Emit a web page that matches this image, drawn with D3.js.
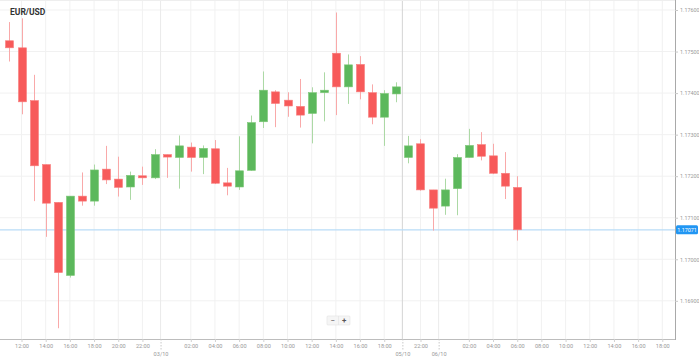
<!DOCTYPE html>
<html><head><meta charset="utf-8">
<script src="https://cdn.jsdelivr.net/npm/d3@7"></script>
<style>html,body{margin:0;padding:0;background:#fff;}svg{display:block;font-family:Roboto,"Open Sans",sans-serif;}</style>
</head><body><svg id="c" width="699" height="357"></svg>
<script>
const title = "EUR/USD";
const times = [
"02/10 11:00","02/10 12:00","02/10 13:00","02/10 14:00","02/10 15:00","02/10 16:00","02/10 17:00","02/10 18:00","02/10 19:00","02/10 20:00","02/10 21:00","02/10 22:00","02/10 23:00",
"03/10 00:00","03/10 01:00","03/10 02:00","03/10 03:00","03/10 04:00","03/10 05:00","03/10 06:00","03/10 07:00","03/10 08:00","03/10 09:00","03/10 10:00","03/10 11:00","03/10 12:00","03/10 13:00","03/10 14:00","03/10 15:00","03/10 16:00","03/10 17:00","03/10 18:00","03/10 19:00",
"05/10 21:00","05/10 22:00","05/10 23:00",
"06/10 00:00","06/10 01:00","06/10 02:00","06/10 03:00","06/10 04:00","06/10 05:00","06/10 06:00"];
const futureTimes = ["06/10 07:00","06/10 08:00","06/10 09:00","06/10 10:00","06/10 11:00","06/10 12:00","06/10 13:00","06/10 14:00","06/10 15:00","06/10 16:00","06/10 17:00","06/10 18:00"];
const open  = [1.17526,1.17509,1.17382,1.17228,1.17137,1.16961,1.17152,1.17140,1.17217,1.17193,1.17174,1.17201,1.17196,1.17252,1.17245,1.17270,1.17245,1.17266,1.17184,1.17174,1.17214,1.17331,1.17403,1.17383,1.17368,1.17351,1.17401,1.17496,1.17415,1.17469,1.17401,1.17342,1.17398,1.17245,1.17278,1.17167,1.17128,1.17170,1.17245,1.17276,1.17249,1.17207,1.17173];
const high  = [1.17571,1.17580,1.17444,1.17228,1.17137,1.17152,1.17209,1.17228,1.17273,1.17247,1.17211,1.17223,1.17265,1.17252,1.17298,1.17281,1.17274,1.17287,1.17220,1.17296,1.17346,1.17452,1.17407,1.17402,1.17434,1.17414,1.17450,1.17594,1.17493,1.17489,1.17421,1.17407,1.17426,1.17297,1.17289,1.17167,1.17194,1.17253,1.17314,1.17306,1.17278,1.17258,1.17200];
const low   = [1.17476,1.17349,1.17140,1.17054,1.16834,1.16956,1.17129,1.17129,1.17181,1.17151,1.17143,1.17179,1.17193,1.17196,1.17170,1.17211,1.17205,1.17181,1.17154,1.17167,1.17213,1.17316,1.17318,1.17343,1.17317,1.17279,1.17332,1.17347,1.17374,1.17385,1.17325,1.17273,1.17378,1.17231,1.17165,1.17069,1.17107,1.17106,1.17245,1.17238,1.17205,1.17145,1.17045];
const close = [1.17509,1.17379,1.17225,1.17135,1.16968,1.17152,1.17140,1.17215,1.17191,1.17173,1.17202,1.17196,1.17252,1.17246,1.17273,1.17245,1.17267,1.17183,1.17176,1.17213,1.17329,1.17407,1.17375,1.17369,1.17347,1.17401,1.17407,1.17415,1.17468,1.17403,1.17342,1.17399,1.17415,1.17273,1.17167,1.17123,1.17167,1.17245,1.17274,1.17248,1.17207,1.17176,1.17071];
const priceTicks = [1.169,1.170,1.171,1.172,1.173,1.174,1.175,1.176];
const lastPrice = 1.17071;

const W = 675, H = 339;
const svg = d3.select("#c");
const allTimes = times.concat(futureTimes);
const x = d3.scaleLinear().domain([-0.78, 55.05]).range([0, W]);
const y = d3.scaleLinear().domain([1.168081, 1.176241]).range([H, 0]);

const hourTicks = allTimes.map((t,i)=>({i, h:+t.slice(6,8), label:t.slice(6)})).filter(o=>o.h%2===0 && o.h!==0);
const dateTicks = [];
allTimes.forEach((t,i)=>{ if(i>0 && t.slice(0,5)!==allTimes[i-1].slice(0,5)) dateTicks.push({pos:i-0.5, label:t.slice(0,5)}); });

// horizontal grid
svg.append("g").selectAll("line").data(priceTicks).join("line")
  .attr("x1",0).attr("x2",W).attr("y1",d=>y(d)).attr("y2",d=>y(d))
  .attr("stroke","#f1f1f1").attr("stroke-width",1);
// vertical grid
svg.append("g").selectAll("line").data(hourTicks).join("line")
  .attr("x1",d=>x(d.i)).attr("x2",d=>x(d.i)).attr("y1",0).attr("y2",H)
  .attr("stroke","#f1f1f1").attr("stroke-width",1);
svg.append("g").selectAll("line").data(dateTicks).join("line")
  .attr("x1",d=>x(d.pos)).attr("x2",d=>x(d.pos)).attr("y1",0).attr("y2",H)
  .attr("stroke",d=>d.label==="05/10"?"#d4d4d4":"#ebebeb").attr("stroke-width",1);
// top border
svg.append("line").attr("x1",0).attr("x2",W).attr("y1",0.5).attr("y2",0.5).attr("stroke","#eeeeee");

// current price line
svg.append("line").attr("x1",0).attr("x2",W).attr("y1",y(lastPrice)).attr("y2",y(lastPrice))
  .attr("stroke","#b9dcf7").attr("stroke-width",1.2);

// candles
const idx = d3.range(times.length);
const up = i => close[i] >= open[i];
const g = svg.append("g");
g.selectAll("line.w").data(idx).join("line").attr("class","w")
  .attr("x1",i=>Math.round(x(i))+0.5).attr("x2",i=>Math.round(x(i))+0.5)
  .attr("y1",i=>y(high[i])).attr("y2",i=>y(low[i]))
  .attr("stroke",i=>up(i)?"#acd9a5":"#f9a9a9").attr("stroke-width",1);
g.selectAll("rect").data(idx).join("rect")
  .attr("x",i=>Math.round(x(i))-3.5).attr("width",8)
  .attr("y",i=>y(Math.max(open[i],close[i])))
  .attr("height",i=>Math.max(1.5, Math.abs(y(open[i])-y(close[i]))))
  .attr("fill",i=>up(i)?"#5cb85c":"#f75a5a")
  .attr("stroke",i=>up(i)?"#7cc776":"#f87d7d").attr("stroke-width",0.6);

// axes
const xAxis = d3.axisBottom(x).tickValues(hourTicks.map(d=>d.i))
  .tickFormat(v=>allTimes[v].slice(6)).tickSize(3).tickPadding(2);
const gx = svg.append("g").attr("transform",`translate(0,${H})`).call(xAxis);
gx.select(".domain").attr("stroke","#bdbdbd").attr("d",`M0,0.5H${W}`);
gx.selectAll(".tick line").attr("stroke","#d0d0d0");
gx.selectAll("text").attr("fill","#9a9a9a").attr("font-size","5.6px").attr("font-family","Roboto,sans-serif");

const dAxis = d3.axisBottom(x).tickValues(dateTicks.map(d=>d.pos))
  .tickFormat(v=>dateTicks.find(d=>d.pos===v).label).tickSize(11).tickPadding(2);
const gd = svg.append("g").attr("transform",`translate(0,${H})`).call(dAxis);
gd.select(".domain").remove();
gd.selectAll(".tick line").attr("stroke","#c8c8c8").attr("stroke-dasharray","1.5,1.5");
gd.selectAll("text").attr("fill","#9a9a9a").attr("font-size","5.6px").attr("font-family","Roboto,sans-serif");

const yAxis = d3.axisRight(y).tickValues(priceTicks).tickFormat(d3.format(".5f")).tickSize(3).tickPadding(2);
const gy = svg.append("g").attr("transform",`translate(${W},0)`).call(yAxis);
gy.select(".domain").attr("stroke","#a9a9a9").attr("d",`M0.5,0V${H+1}`);
gy.selectAll(".tick line").attr("stroke","#c8c8c8");
gy.selectAll("text").attr("fill","#9a9a9a").attr("font-size","5.4px").attr("font-family","Roboto,sans-serif");

// last price label
const ly = y(lastPrice);
svg.append("rect").attr("x",W+1).attr("y",ly-4.5).attr("width",22).attr("height",9).attr("rx",1.5).attr("fill","#2196f3");
svg.append("text").attr("x",W+12).attr("y",ly+2).attr("text-anchor","middle").attr("fill","#fff")
  .attr("font-size","5.4px").text(d3.format(".5f")(lastPrice));

// title
svg.append("text").attr("x",10).attr("y",15).attr("font-size","8.5px").attr("font-weight","bold")
  .attr("fill","#333").text(title);

// zoom buttons
const zb = svg.append("g").attr("transform","translate(327,316)");
zb.append("rect").attr("width",23).attr("height",9).attr("fill","#f5f5f5").attr("stroke","#e2e2e2").attr("stroke-width",0.6).attr("rx",1);
zb.append("line").attr("x1",11.5).attr("x2",11.5).attr("y1",0).attr("y2",9).attr("stroke","#e2e2e2").attr("stroke-width",0.6);
zb.append("text").attr("x",5.7).attr("y",7.3).attr("text-anchor","middle").attr("font-size","8px").attr("fill","#555").text("−");
zb.append("text").attr("x",17.3).attr("y",7.3).attr("text-anchor","middle").attr("font-size","8px").attr("font-weight","bold").attr("fill","#555").text("+");
</script></body></html>
